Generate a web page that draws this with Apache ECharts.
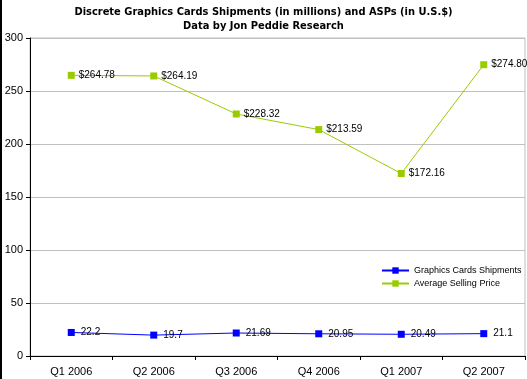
<!DOCTYPE html>
<html><head><meta charset="utf-8">
<script src="https://cdn.jsdelivr.net/npm/echarts@6/dist/echarts.min.js"></script>
<style>html,body{margin:0;padding:0;background:#fff}#c{width:527px;height:379px}</style>
</head><body><div id="c"></div>
<script>
const categories = ['Q1 2006','Q2 2006','Q3 2006','Q4 2006','Q1 2007','Q2 2007'];
const shipments = [22.2, 19.7, 21.69, 20.95, 20.49, 21.1];
const shipmentLabels = ['22.2','19.7','21.69','20.95','20.49','21.1'];
const asp = [264.78, 264.19, 228.32, 213.59, 172.16, 274.80];
const aspLabels = ['$264.78','$264.19','$228.32','$213.59','$172.16','$274.80'];
const yTicks = [0, 50, 100, 150, 200, 250, 300];

const font = 'Liberation Sans, Arial, sans-serif';
const chart = echarts.init(document.getElementById('c'));
chart.setOption({
  animation: false,
  backgroundColor: '#fff',
  title: {
    text: 'Discrete Graphics Cards Shipments (in millions) and ASPs (in U.S.$)\nData by Jon Peddie Research',
    left: 'center', top: 0,
    textStyle: { fontFamily: 'DejaVu Sans Condensed, DejaVu Sans, sans-serif', fontSize: 11, fontWeight: 'bold', color: '#000', lineHeight: 14 }
  },
  legend: {
    orient: 'vertical', left: 376, top: 261, itemGap: 4,
    itemWidth: 27, itemHeight: 8,
    textStyle: { fontFamily: font, fontSize: 9, color: '#000' },
    data: ['Graphics Cards Shipments', 'Average Selling Price']
  },
  grid: { left: 30, right: 2, top: 38, bottom: 23, show: true, borderColor: '#c0c0c0', borderWidth: 1 },
  xAxis: {
    type: 'category', data: categories, boundaryGap: true,
    axisLine: { lineStyle: { color: '#000', width: 1 } },
    axisTick: { show: true, length: 4, lineStyle: { color: '#000' } },
    axisLabel: { fontFamily: font, fontSize: 11, color: '#000', margin: 10 }
  },
  yAxis: {
    type: 'value', min: yTicks[0], max: yTicks[yTicks.length - 1], interval: 50,
    axisLine: { show: true, lineStyle: { color: '#000', width: 1 } },
    axisTick: { show: true, length: 4, lineStyle: { color: '#000' } },
    axisLabel: { fontFamily: font, fontSize: 11, color: '#000', margin: 7 },
    splitLine: { lineStyle: { color: '#c0c0c0', width: 1 } }
  },
  series: [
    {
      name: 'Graphics Cards Shipments', type: 'line', data: shipments,
      color: '#0000ff', symbol: 'rect', symbolSize: 7,
      lineStyle: { color: '#0000ff', width: 1 },
      itemStyle: { color: '#0000ff' },
      label: { show: true, position: 'right', distance: 6, fontFamily: font, fontSize: 10, color: '#000',
        formatter: p => shipmentLabels[p.dataIndex] }
    },
    {
      name: 'Average Selling Price', type: 'line', data: asp,
      color: '#99cc00', symbol: 'rect', symbolSize: 7,
      lineStyle: { color: '#99cc00', width: 1 },
      itemStyle: { color: '#99cc00' },
      label: { show: true, position: 'right', distance: 4, fontFamily: font, fontSize: 10, color: '#000',
        formatter: p => aspLabels[p.dataIndex] }
    }
  ],
  graphic: [
    { type: 'rect', left: 0, top: 0, shape: { width: 2, height: 379 }, style: { fill: '#000' } }
  ]
});
</script></body></html>
